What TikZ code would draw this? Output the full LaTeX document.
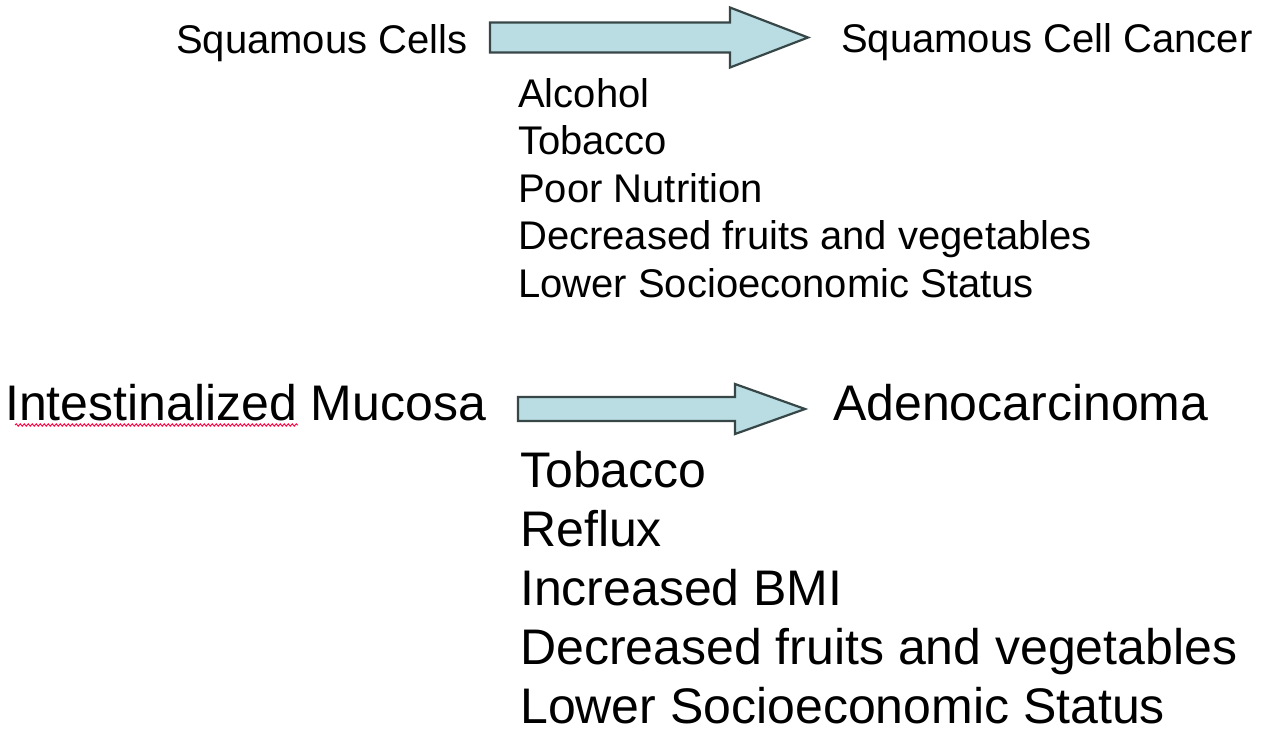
\documentclass[tikz,border=0pt]{standalone}
\usepackage{fontspec}
\setmainfont{Liberation Sans}
\usepackage{tikz}
\usetikzlibrary{positioning,calc,decorations.pathmorphing}

\definecolor{arrowblue}{RGB}{185,221,227}
\definecolor{arrowedge}{RGB}{55,70,70}

\tikzset{
  small/.style={font=\fontsize{40}{48}\selectfont,anchor=base west,inner sep=0pt},
  large/.style={font=\fontsize{50}{60}\selectfont,anchor=base west,inner sep=0pt},
  fatarrow/.style={fill=arrowblue,draw=arrowedge,line width=2.2pt,line join=miter},
}

% block arrow: tail, tip, half shaft, half head, head length
\newcommand\blockarrow[5]{%
  \draw[fatarrow] let \p1=(#1), \p2=(#2) in
    (\x1,\y1+#3) -- (\x2-#5,\y1+#3) -- (\x2-#5,\y1+#4) -- (\x2,\y2)
    -- (\x2-#5,\y1-#4) -- (\x2-#5,\y1-#3) -- (\x1,\y1-#3) -- cycle;}

\begin{document}
\begin{tikzpicture}[x=1pt,y=1pt]
\useasboundingbox (0,0) rectangle (1274,-734);

% squamous part
\node[small] (cells) at (176,-53) {Squamous Cells};
\node[small] (scc) at (841,-52) {Squamous Cell Cancer};
\coordinate (tail1) at (490,-37.5);
\coordinate (tip1) at (808,-37.5);
\blockarrow{tail1}{tip1}{15}{30}{78}
\foreach \t [count=\i] in {Alcohol,Tobacco,Poor Nutrition,
    Decreased fruits and vegetables,Lower Socioeconomic Status}
  \node[small] (sq\i) at (518,-107-47.5*\i+47.5) {\t};

% adeno part
\node[large] (muc) at (5,-420) {Intestinalized Mucosa};
\node[large] (adeno) at (833,-420) {Adenocarcinoma};
\draw[red!75!magenta,line width=0.9pt,decorate,
  decoration={snake,amplitude=1.2pt,segment length=4pt}]
  (15,-425) -- (298,-425);
\coordinate (tail2) at (518,-409);
\coordinate (tip2) at (805,-409);
\blockarrow{tail2}{tip2}{12}{25}{70}
\foreach \t [count=\i] in {Tobacco,Reflux,Increased BMI,
    Decreased fruits and vegetables,Lower Socioeconomic Status}
  \node[large] (ad\i) at (520,-487-59*\i+59) {\t};
\end{tikzpicture}
\end{document}
